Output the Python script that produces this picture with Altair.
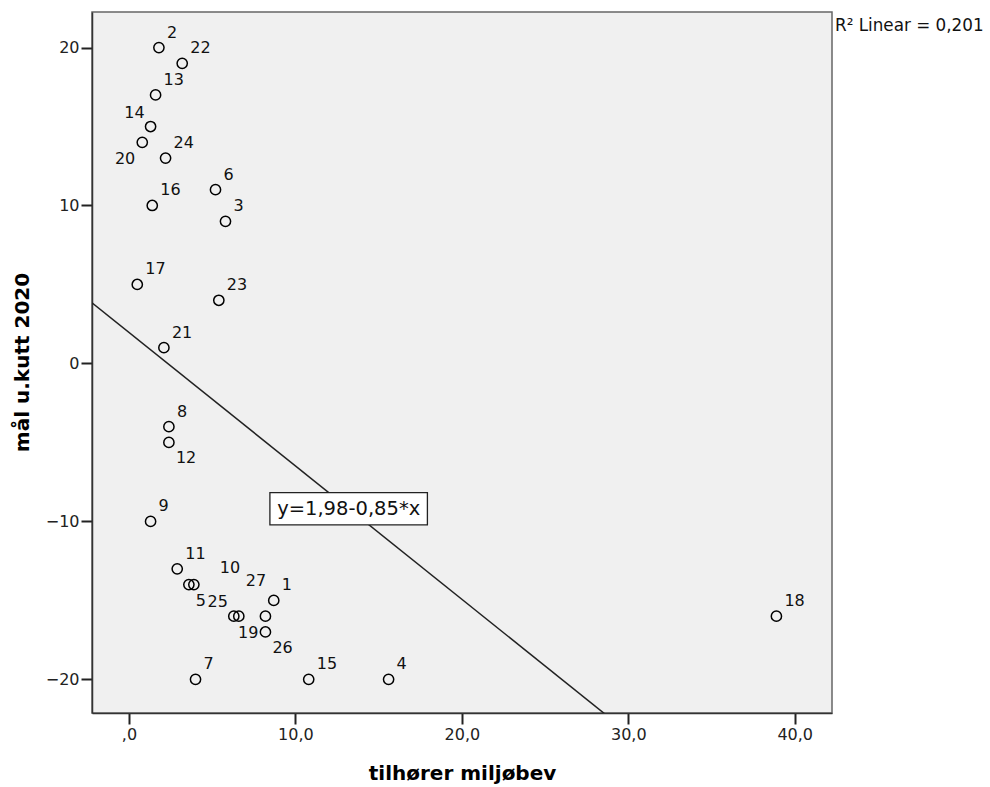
import altair as alt
import pandas as pd

# ---- data ----
ids = [1, 2, 3, 4, 5, 6, 7, 8, 9, 10, 11, 12, 13, 14, 15, 16, 17, 18, 19, 20, 21, 22, 23, 24, 25, 26, 27]
x_vals = [8.7, 1.8, 5.8, 15.6, 3.6, 5.2, 4.0, 2.4, 1.3, 3.9, 2.9, 2.4, 1.6, 1.3, 10.8, 1.4, 0.5, 38.9,
          8.2, 0.8, 2.1, 3.2, 5.4, 2.2, 6.3, 8.2, 6.6]
y_vals = [-15, 20, 9, -20, -14, 11, -20, -4, -10, -14, -13, -5, 17, 15, -20, 10, 5, -16,
          -16, 14, 1, 19, 4, 13, -16, -17, -16]
label_dir = ["ne", "ne", "ne", "ne", "se", "ne", "ne", "ne", "ne", "ne2", "ne", "se", "ne", "nw", "ne", "ne", "ne", "ne",
             "sw", "sw", "ne", "ne", "ne", "ne", "nw", "se", "nn"]

x_ticks = [0, 10, 20, 30, 40]
y_ticks = [-20, -10, 0, 10, 20]
X_DOMAIN = [-2.22, 42.24]
Y_DOMAIN = [-22.13, 22.25]

INTERCEPT = 1.98
SLOPE = -0.85
R2 = 0.201
EQ_POS = (13.2, -9.2)

x_title = "tilhører miljøbev"
y_title = "mål u.kutt 2020"

df = pd.DataFrame({"id": [str(i) for i in ids], "x": x_vals, "y": y_vals, "dir": label_dir})

FONT = "DejaVu Sans"

xs = alt.Scale(domain=X_DOMAIN, nice=False, zero=False)
ys = alt.Scale(domain=Y_DOMAIN, nice=False, zero=False)

base = alt.Chart(df)

points = base.mark_point(shape="circle", filled=False, color="#000", size=105, strokeWidth=1.5, opacity=1).encode(
    x=alt.X("x:Q", scale=xs,
            axis=alt.Axis(values=x_ticks, title=x_title,
                          labelExpr="datum.value == 0 ? ',0' : replace(format(datum.value, '.1f'), '.', ',')",
                          titleX=370, titleY=60, titleBaseline="middle", titleAlign="center")),
    y=alt.Y("y:Q", scale=ys,
            axis=alt.Axis(values=y_ticks, title=y_title, format="d",
                          titleX=-70, titleY=350, titleBaseline="middle", titleAlign="center", titleAngle=-90)),
)

offsets = {
    "ne": ("left", 8, -15),
    "nw": ("right", -6, -14),
    "se": ("left", 7, 16),
    "sw": ("right", -7, 17),
    "ne2": ("left", 26, -17),
    "nn": ("left", 7, -35),
}

label_layers = []
for key, (al, dx, dy) in offsets.items():
    label_layers.append(
        base.transform_filter(alt.datum.dir == key).mark_text(
            align=al, baseline="middle", dx=dx, dy=dy, font=FONT, fontSize=16, color="#111"
        ).encode(x=alt.X("x:Q", scale=xs), y=alt.Y("y:Q", scale=ys), text="id:N")
    )

reg = base.transform_regression("x", "y", method="linear", extent=X_DOMAIN).mark_line(
    color="#222", strokeWidth=1.5, clip=True
).encode(x=alt.X("x:Q", scale=xs), y=alt.Y("y:Q", scale=ys))

eq_text = "y=" + f"{INTERCEPT:.2f}".replace(".", ",") + "-" + f"{abs(SLOPE):.2f}".replace(".", ",") + "*x"
eq_df = pd.DataFrame({"x": [EQ_POS[0]], "y": [EQ_POS[1]], "t": [eq_text]})

eq_box = alt.Chart(eq_df).mark_point(
    shape="M-1,-0.205L1,-0.205L1,0.205L-1,0.205Z", filled=True, fill="white", stroke="#222",
    strokeWidth=1.3, size=157.5 ** 2, opacity=1
).encode(x=alt.X("x:Q", scale=xs), y=alt.Y("y:Q", scale=ys))

eq_label = alt.Chart(eq_df).mark_text(
    align="center", baseline="middle", font=FONT, fontSize=19.5, color="#111"
).encode(x=alt.X("x:Q", scale=xs), y=alt.Y("y:Q", scale=ys), text="t:N")

r2_df = pd.DataFrame({"t": ["R² Linear = " + f"{R2:.3f}".replace(".", ",")]})
r2_label = alt.Chart(r2_df).mark_text(
    align="left", baseline="middle", font=FONT, fontSize=16.8, color="#111"
).encode(x=alt.value(743), y=alt.value(14), text="t:N")

chart = alt.layer(reg, points, *label_layers, eq_box, eq_label, r2_label).properties(
    width=740, height=701, autosize="none",
    padding={"left": 92, "top": 12, "right": 158, "bottom": 74},
    background="white",
).configure_view(
    fill="#f0f0f0", stroke="#666", strokeWidth=1.5
).configure_axis(
    grid=False, domain=True, domainColor="#333", domainWidth=1.5,
    ticks=True, tickSize=11, tickColor="#222", tickWidth=2,
    labelFont=FONT, labelFontSize=16, labelColor="#222", labelPadding=2,
    titleFont=FONT, titleFontSize=20, titleFontWeight="bold", titleColor="#000",
)

chart.save("out.html", embed_options={"renderer": "svg", "actions": False})
